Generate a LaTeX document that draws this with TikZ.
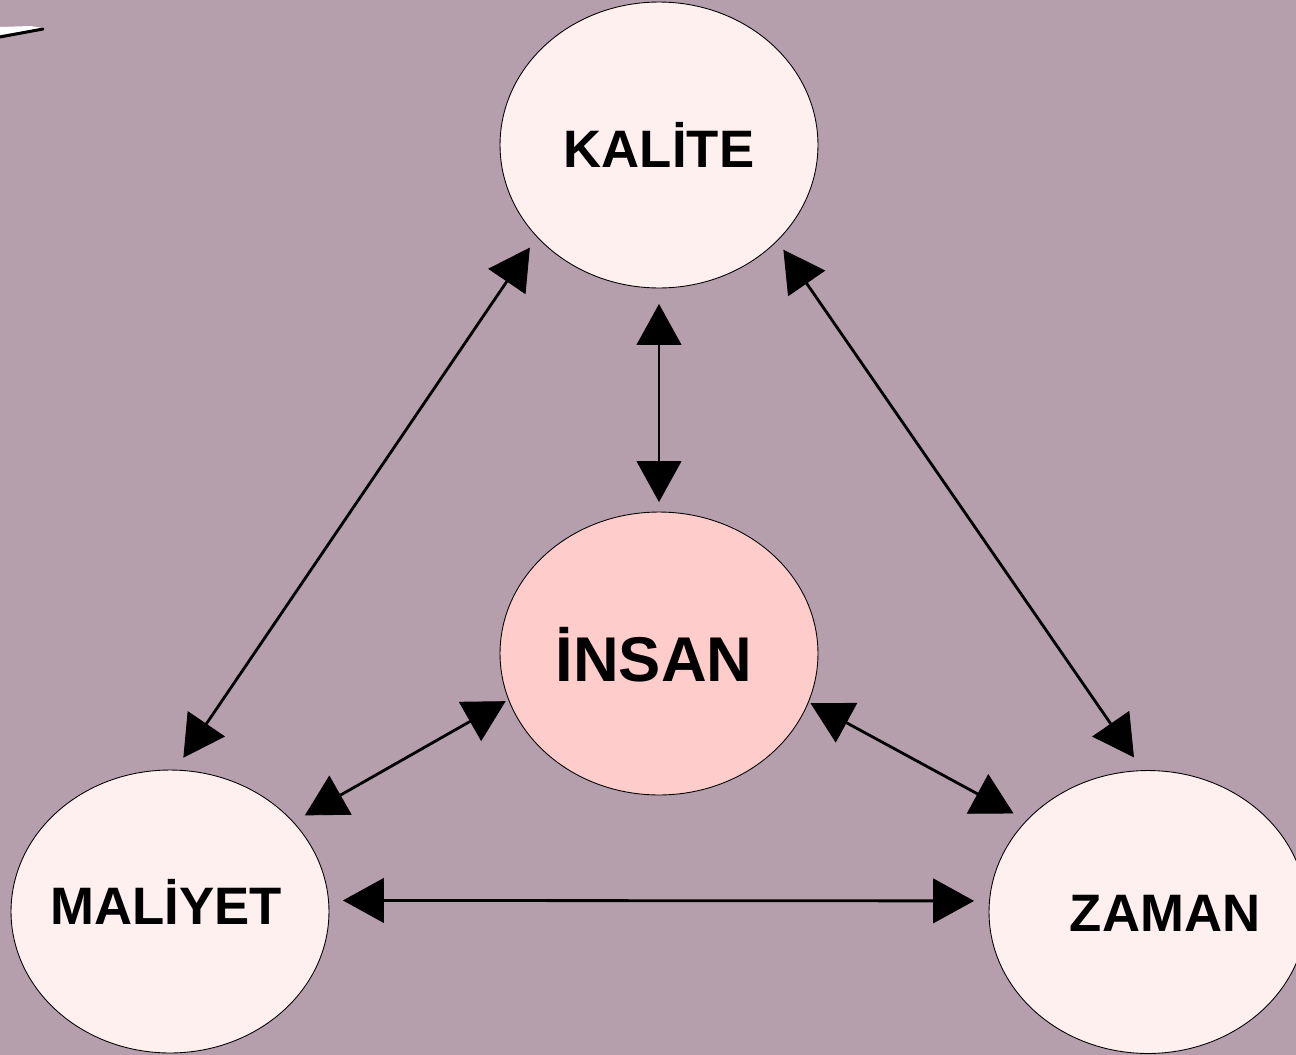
\documentclass[tikz,border=0pt]{standalone}
\usepackage{fontspec}
\setmainfont{Liberation Sans}
\usetikzlibrary{arrows.meta,shapes.geometric}

\definecolor{bgmauve}{RGB}{182,159,173}
\definecolor{palepink}{RGB}{255,240,240}
\definecolor{rosepink}{RGB}{255,204,204}

\tikzset{
    bubble/.style={ellipse, draw=black, line width=0.5pt, fill=palepink,
        inner sep=0pt, outer sep=0pt, minimum width=6.36cm, minimum height=5.66cm},
    word/.style={anchor=base, inner sep=0pt, font=\bfseries\fontsize{30}{36}\selectfont},
    link/.style={{Triangle[length=0.82cm,width=0.9cm,line width=0.5pt]}-{Triangle[length=0.82cm,width=0.9cm,line width=0.5pt]},
        line width=1.6pt, shorten <=0.3cm, shorten >=0.3cm}
}

\begin{document}
\begin{tikzpicture}[x=0.02cm, y=-0.02cm]

    % Background
    \clip (0,0) rectangle (1296,1055);
    \fill[bgmauve] (0,0) rectangle (1296,1055);

    % Corner sliver
    \fill[white] (0,27) -- (30,26) -- (43,28) -- (0,35) -- cycle;
    \draw[black, line width=0.06cm, line cap=round] (0,37) -- (43,29);

    % Ellipses
    \node[bubble, minimum height=5.72cm] (kalite) at (659,145) {};
    \node[bubble, fill=rosepink] (insan) at (659,653.5) {};
    \node[bubble] (maliyet) at (170,911.5) {};
    \node[bubble] (zaman) at (1148,912) {};

    % Labels
    \node[word] (kalite-t) at (659,167) {KALİTE};
    \node[word, font=\bfseries\fontsize{36}{42}\selectfont] (insan-t) at (654,681) {İNSAN};
    \node[word] (maliyet-t) at (166,924) {MALİYET};
    \node[word] (zaman-t) at (1165,931) {ZAMAN};

    % Arrows
    \draw[link, shorten <=0.26cm] (kalite.217.2) -- (maliyet.88.1);
    \draw[link, shorten <=0.22cm, shorten >=0.32cm] (kalite.321.9) -- (zaman.92.1);
    \draw[link, shorten <=0.32cm, shorten >=0.2cm] (kalite.270) -- (insan.90);
    \draw[link, shorten <=0.07cm, shorten >=0.27cm] (insan.197.4) -- (maliyet.36.9);
    \draw[link, shorten <=0.05cm] (insan.342.5) -- (zaman.143.7);
    \draw[link, shorten <=0.29cm, shorten >=0.31cm] (maliyet.4.2) -- (zaman.176);

\end{tikzpicture}
\end{document}
